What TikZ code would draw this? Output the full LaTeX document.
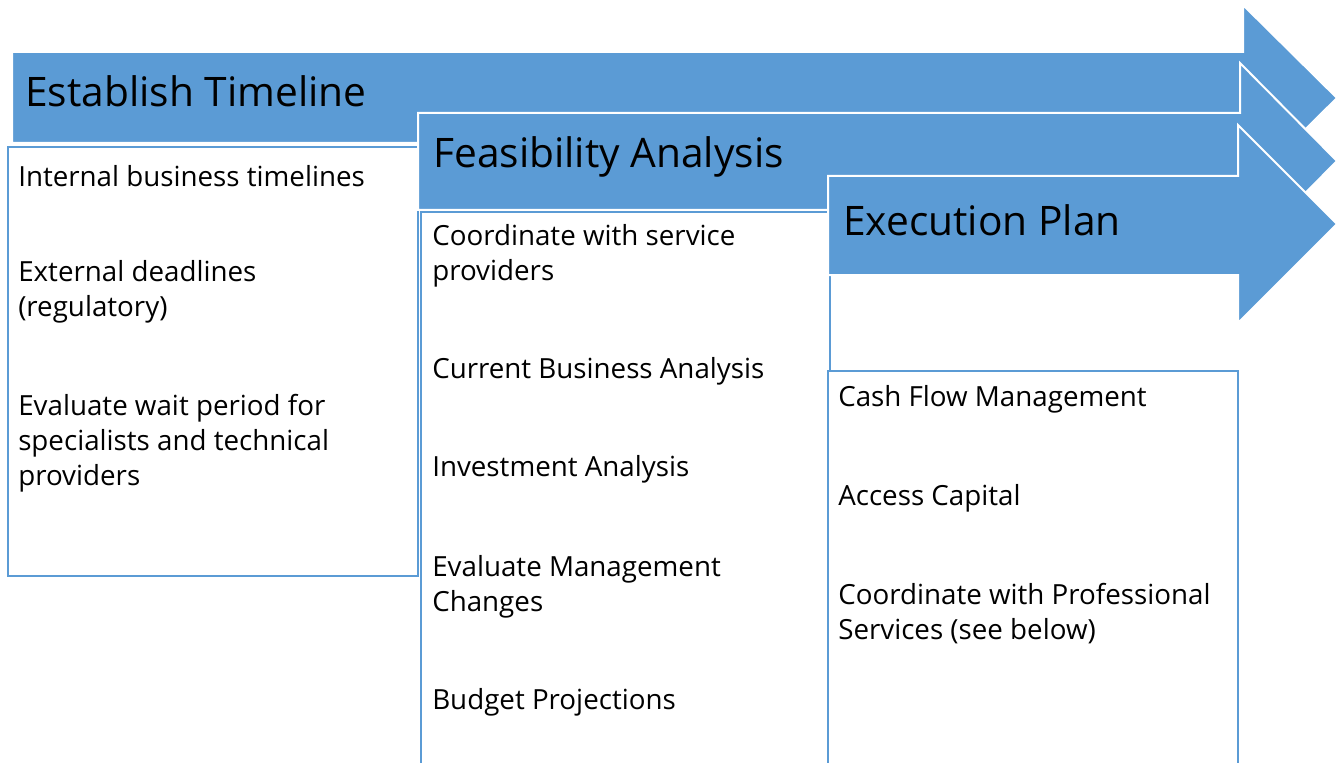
\documentclass[tikz,border=0pt]{standalone}
\usepackage{fontspec}
\setmainfont{Open Sans}
\definecolor{barblue}{HTML}{5B9BD5}

\begin{document}
\begin{tikzpicture}[x=0.75pt,y=-0.75pt,
    band/.style={fill=barblue, draw=white, line width=1.5pt, line join=miter},
    frame/.style={draw=barblue, line width=1.5pt, fill=white},
    heading/.style={anchor=west, inner sep=0pt, font=\fontsize{30.5}{36}\selectfont},
    item/.style={anchor=west, inner sep=0pt, align=left, font=\fontsize{20.8}{26.25}\selectfont}]
    \useasboundingbox (0,0) rectangle (1339,763);
    \clip (0,0) rectangle (1339,763);

    % frames below the bands
    \draw[frame] (8,147) rectangle (418,576);
    \draw[frame] (421,212) rectangle (830,800);
    \draw[frame] (828,371) rectangle (1238,800);

    % bands
    \draw[band] (12,52) -- (1243,52) -- (1243,5) -- (1337,98) -- (1243,191) -- (1243,143) -- (12,143) -- cycle;
    \draw[band] (418,113) -- (1240,113) -- (1240,63) -- (1337,161) -- (1240,259) -- (1240,210) -- (418,210) -- cycle;
    \draw[band] (828,176) -- (1238,176) -- (1238,125) -- (1337,224) -- (1238,323) -- (1238,275) -- (828,275) -- cycle;

    \node[heading] (timeline) at (25,91) {Establish Timeline};
    \node[heading] (feasible) at (433,157) {Feasibility Analysis};
    \node[heading] (execute) at (843,220) {Execution Plan};

    \node[item] (tl1) at (18,176) {Internal business timelines};
    \node[item] (tl2) at (18,292) {External deadlines\\(regulatory)};
    \node[item] (tl3) at (18,443) {Evaluate wait period for\\specialists and technical\\providers};

    \node[item] (fa1) at (432,256) {Coordinate with service\\providers};
    \node[item] (fa2) at (432,371) {Current Business Analysis};
    \node[item] (fa3) at (432,469) {Investment Analysis};
    \node[item] (fa4) at (432,587) {Evaluate Management\\Changes};
    \node[item] (fa5) at (432,702) {Budget Projections};

    \node[item] (ep1) at (838,399) {Cash Flow Management};
    \node[item] (ep2) at (838,498) {Access Capital};
    \node[item] (ep3) at (838,614) {Coordinate with Professional\\Services (see below)};
\end{tikzpicture}
\end{document}
